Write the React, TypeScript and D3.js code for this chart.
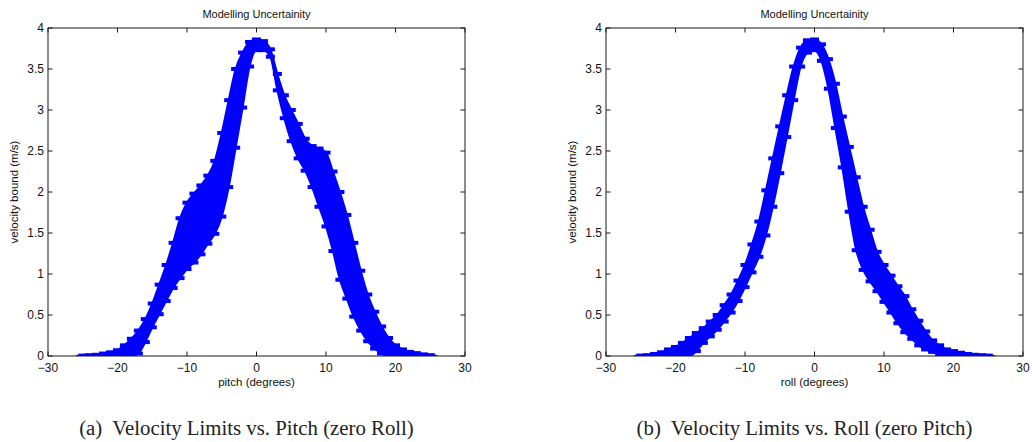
import React from 'react';
import * as d3 from 'd3';

// angle samples (degrees)
const ANGLES = [-26,-25,-24,-23,-22,-21,-20,-19,-18,-17,-16,-15,-14,-13,-12,-11,-10,-9,-8,-7,-6,-5,-4,-3,-2,-1,0,1,2,3,4,5,6,7,8,9,10,11,12,13,14,15,16,17,18,19,20,21,22,23,24,25,26];

// (a) pitch sweep: upper and lower envelope of the velocity bound (m/s)
const PITCH_UPPER = [0,0.005,0.01,0.015,0.03,0.045,0.07,0.13,0.21,0.31,0.45,0.64,0.87,1.11,1.38,1.68,1.87,1.98,2.08,2.2,2.38,2.72,3.12,3.5,3.7,3.83,3.86,3.84,3.74,3.44,3.18,3.0,2.83,2.65,2.56,2.53,2.48,2.25,2.0,1.72,1.38,1.04,0.75,0.54,0.36,0.22,0.13,0.08,0.05,0.035,0.02,0.01,0];
const PITCH_LOWER = [0,0,0,0,0,0,0,0,0,0.03,0.17,0.35,0.51,0.67,0.83,0.95,1.06,1.14,1.24,1.37,1.49,1.7,2.06,2.54,3.03,3.53,3.73,3.73,3.65,3.24,2.9,2.62,2.41,2.26,2.06,1.82,1.58,1.28,0.93,0.7,0.48,0.31,0.18,0.09,0.03,0,0,0,0,0,0,0,0];

// (b) roll sweep
const ROLL_UPPER = [0,0.005,0.01,0.025,0.045,0.08,0.11,0.16,0.22,0.28,0.34,0.42,0.5,0.62,0.75,0.92,1.11,1.36,1.64,2.02,2.41,2.8,3.18,3.53,3.76,3.85,3.86,3.8,3.62,3.32,2.92,2.55,2.18,1.82,1.54,1.27,1.11,0.98,0.85,0.73,0.57,0.43,0.3,0.19,0.13,0.08,0.06,0.04,0.025,0.015,0.01,0.005,0];
const ROLL_LOWER = [0,0,0,0,0,0,0,0,0,0.06,0.16,0.24,0.32,0.42,0.53,0.67,0.84,1.02,1.21,1.47,1.82,2.23,2.67,3.12,3.53,3.7,3.73,3.6,3.26,2.78,2.3,1.76,1.29,1.05,0.91,0.79,0.66,0.53,0.4,0.29,0.21,0.13,0.08,0.05,0.02,0,0,0,0,0,0,0,0];

const X_TICKS = [-30, -20, -10, 0, 10, 20, 30];
const Y_TICKS = [0, 0.5, 1, 1.5, 2, 2.5, 3, 3.5, 4];
const TITLE = 'Modelling Uncertainity';
const Y_LABEL = 'velocity bound (m/s)';
const X_LABELS = ['pitch (degrees)', 'roll (degrees)'];
const CAPTION_TAGS = ['(a)', '(b)'];
const CAPTIONS = ['Velocity Limits vs. Pitch (zero Roll)', 'Velocity Limits vs. Roll (zero Pitch)'];

const SANS = '"Liberation Sans", Arial, Helvetica, sans-serif';
const SERIF = '"Liberation Serif", "Times New Roman", serif';
const BLUE = '#0000ff';
const AXIS = '#1a1a1a';

const fmt = (v: number) => (v < 0 ? '\u2212' + Math.abs(v) : String(v));

type PanelProps = { id: string; left: number; upper: number[]; lower: number[]; xLabel: string; tag: string; caption: string };

function Panel({ id, left, upper, lower, xLabel, tag, caption }: PanelProps) {
  const W = 417, top = 28, bottom = 356;
  const x = d3.scaleLinear().domain([-30, 30]).range([left, left + W]);
  const y = d3.scaleLinear().domain([0, 4]).range([bottom, top]);
  const pts = ANGLES.map((a, i) => ({ a, hi: upper[i], lo: lower[i] }));
  const area = d3.area<{ a: number; hi: number; lo: number }>()
    .x(d => x(d.a)).y0(d => y(d.lo)).y1(d => y(d.hi)).curve(d3.curveMonotoneX);
  const half = x(0.65) - x(0);
  const tick = 4.5;
  const cx = left + W / 2;
  return (
    <g>
      <defs>
        <clipPath id={id}><rect x={left} y={top} width={W} height={bottom - top} /></clipPath>
      </defs>
      <g clipPath={`url(#${id})`}>
        <path d={area(pts) || ''} fill={BLUE} stroke={BLUE} strokeWidth={2} />
        {pts.filter(d => d.hi > 0).map((d, i) => (
          <rect key={'h' + i} x={x(d.a) - half} y={y(d.hi) - 2} width={half * 2} height={4} fill={BLUE} />
        ))}
        {pts.filter(d => d.lo > 0).map((d, i) => (
          <rect key={'l' + i} x={x(d.a) - half} y={y(d.lo) - 2} width={half * 2} height={4} fill={BLUE} />
        ))}
      </g>
      <rect x={left} y={top} width={W} height={bottom - top} fill="none" stroke={AXIS} strokeWidth={1} />
      {X_TICKS.map(t => (
        <g key={'xt' + t}>
          <line x1={x(t)} x2={x(t)} y1={bottom} y2={bottom - tick} stroke={AXIS} />
          <line x1={x(t)} x2={x(t)} y1={top} y2={top + tick} stroke={AXIS} />
          <text x={x(t)} y={bottom + 16} textAnchor="middle" fontFamily={SANS} fontSize={12} fill="#111">{fmt(t)}</text>
        </g>
      ))}
      {Y_TICKS.map(t => (
        <g key={'yt' + t}>
          <line x1={left} x2={left + tick} y1={y(t)} y2={y(t)} stroke={AXIS} />
          <line x1={left + W} x2={left + W - tick} y1={y(t)} y2={y(t)} stroke={AXIS} />
          <text x={left - 4} y={y(t) + 4.3} textAnchor="end" fontFamily={SANS} fontSize={12} fill="#111">{fmt(t)}</text>
        </g>
      ))}
      <text x={cx} y={18} textAnchor="middle" fontFamily={SANS} fontSize={11} fill="#111">{TITLE}</text>
      <text x={cx} y={386} textAnchor="middle" fontFamily={SANS} fontSize={11.5} fill="#111">{xLabel}</text>
      <text transform={`translate(${left - 30},${(top + bottom) / 2}) rotate(-90)`} textAnchor="middle" fontFamily={SANS} fontSize={11.5} fill="#111">{Y_LABEL}</text>
      <text x={cx - 10} y={435} textAnchor="middle" fontFamily={SERIF} fontSize={20.8} fill="#222">
        <tspan>{tag}</tspan><tspan dx={10}>{caption}</tspan>
      </text>
    </g>
  );
}

export default function App() {
  return (
    <svg width={1032} height={442} style={{ position: 'absolute', left: 0, top: 0, background: '#fff' }}>
      <rect width={1032} height={442} fill="#fff" />
      <Panel id="clipA" left={48} upper={PITCH_UPPER} lower={PITCH_LOWER} xLabel={X_LABELS[0]} tag={CAPTION_TAGS[0]} caption={CAPTIONS[0]} />
      <Panel id="clipB" left={606} upper={ROLL_UPPER} lower={ROLL_LOWER} xLabel={X_LABELS[1]} tag={CAPTION_TAGS[1]} caption={CAPTIONS[1]} />
    </svg>
  );
}
